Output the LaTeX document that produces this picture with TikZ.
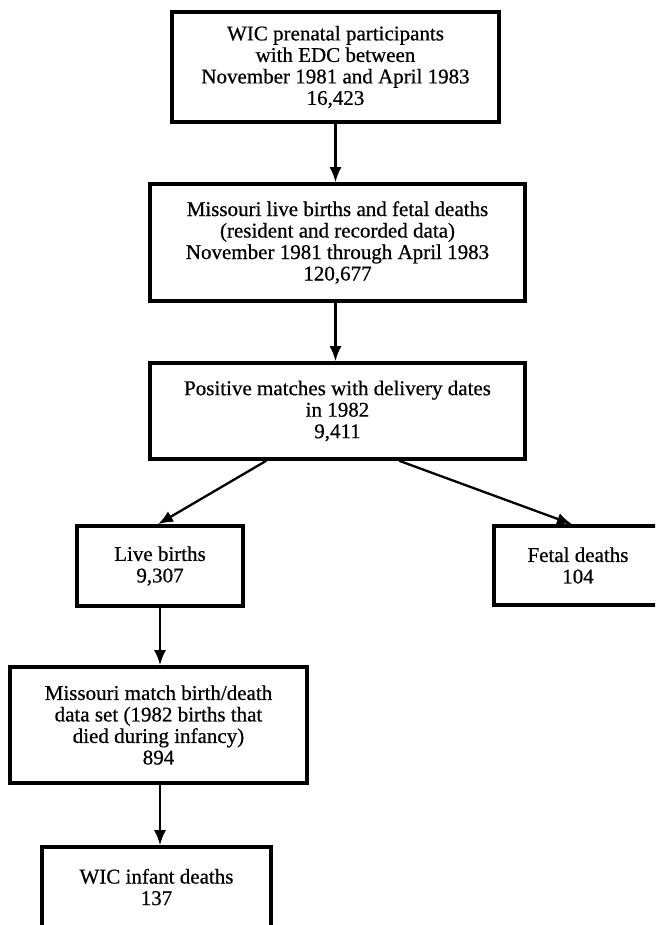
\documentclass[tikz,border=0pt]{standalone}
\usepackage{fontspec}
\setmainfont[FakeBold=0.6]{Liberation Serif}
\usetikzlibrary{arrows.meta,calc}
\begin{document}
\begin{tikzpicture}[x=1pt,y=-1pt,
  box/.style={draw, line width=3.6pt, rectangle, inner sep=0pt, align=center,
              font=\fontsize{21}{21.5}\selectfont},
  arr/.style={line width=2.3pt, -{Latex[length=15pt,width=12pt]}}]
\useasboundingbox (0,0) rectangle (655,925);
\clip (0,0) rectangle (655,925);
\node[box, minimum width=327pt, minimum height=110pt] (b1) at (335.5,67)
  {WIC prenatal participants\\with EDC between\\November 1981 and April 1983\\16,423};
\node[box, minimum width=375pt, minimum height=117pt] (b2) at (337.5,242.5)
  {Missouri live births and fetal deaths\\(resident and recorded data)\\November 1981 through April 1983\\120,677};
\node[box, minimum width=375pt, minimum height=96pt] (b3) at (337.5,411)
  {Positive matches with delivery dates\\in 1982\\9,411};
\node[box, minimum width=166pt, minimum height=80pt] (live) at (160,566)
  {Live births\\9,307};
\node[box, minimum width=168pt, minimum height=79pt] (fetal) at (578,565.5)
  {Fetal deaths\\104};
\node[box, minimum width=297pt, minimum height=116pt] (miss) at (158.5,725)
  {Missouri match birth/death\\data set (1982 births that\\died during infancy)\\894};
\node[box, minimum width=229pt, minimum height=80pt] (wic) at (156.5,887)
  {WIC infant deaths\\137};
\draw[arr] (b1.south) -- (b1.south |- b2.north);
\draw[arr] (b2.south -| b1.south) -- (b3.north -| b1.south);
\draw[arr] ($(b3.south west)+(118,0)$) -- ($(live.north)+(-2,0)$);
\draw[arr] ($(b3.south west)+(251,0)$) -- ($(fetal.north)+(-6,0)$);
\draw[arr] (live.south) -- (live.south |- miss.north);
\draw[arr] (miss.south -| live.south) -- (wic.north -| live.south);
\end{tikzpicture}
\end{document}
